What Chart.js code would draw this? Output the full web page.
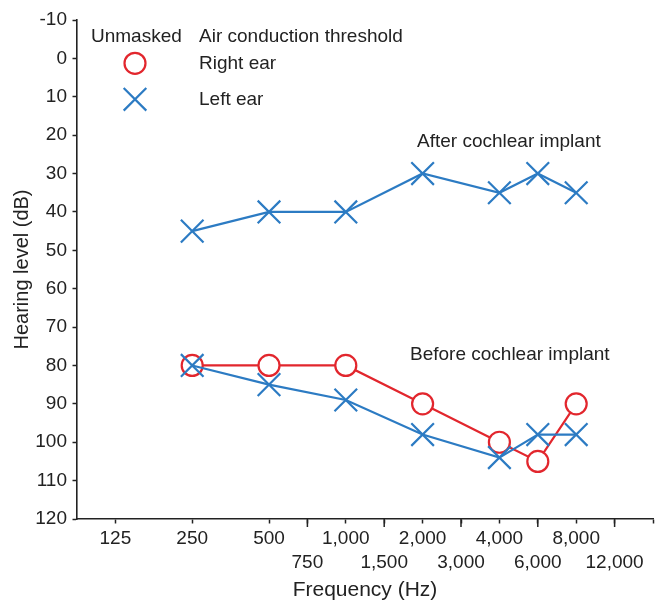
<!DOCTYPE html>
<html>
<head>
<meta charset="utf-8">
<script src="https://cdn.jsdelivr.net/npm/chart.js@4.4.1/dist/chart.umd.min.js"></script>
<style>
  html, body { margin: 0; padding: 0; background: #fff; }
  #wrap { position: relative; width: 655px; height: 603px; }
</style>
</head>
<body>
<div id="wrap"><canvas id="c" width="655" height="603"></canvas></div>
<script>
// ---- data (frequencies in Hz, hearing level in dB) ----
const freqs = [250, 500, 1000, 2000, 4000, 6000, 8000];
const rightBefore = [80, 80, 80, 90, 100, 105, 90];
const leftBefore  = [80, 85, 89, 98, 104, 98, 98];
const leftAfter   = [45, 40, 40, 30, 35, 30, 35];

const octaveFreqs = [125, 250, 500, 1000, 2000, 4000, 8000, 16000];
const octaveLabels = ['125', '250', '500', '1,000', '2,000', '4,000', '8,000', ''];
const halfFreqs = [750, 1500, 3000, 6000, 12000];
const halfLabels = ['750', '1,500', '3,000', '6,000', '12,000'];
const yTicks = [-10, 0, 10, 20, 30, 40, 50, 60, 70, 80, 90, 100, 110, 120];

const RED = '#E2262D';
const BLUE = '#2C7BC3';
const INK = '#222222';
const FONT = '"Liberation Sans", Arial, Helvetica, sans-serif';

// audiogram position: octaves above 125 Hz, inter-octave frequencies at the half-way point
function audPos(f) { return Math.round(2 * Math.log2(f / 125)) / 2; }

function series(vals) { return freqs.map((f, i) => ({ x: audPos(f), y: vals[i] })); }

Chart.defaults.font.family = FONT;
Chart.defaults.color = INK;

const overlay = {
  id: 'overlay',
  afterDraw(chart) {
    const ctx = chart.ctx;
    const xs = chart.scales.x;
    ctx.save();
    // longer tick marks at inter-octave frequencies
    ctx.strokeStyle = INK;
    ctx.lineWidth = 1.5;
    halfFreqs.forEach(f => {
      const px = xs.getPixelForValue(audPos(f));
      ctx.beginPath();
      ctx.moveTo(px, xs.top);
      ctx.lineTo(px, xs.top + 8);
      ctx.stroke();
    });
    // legend and annotations
    ctx.font = '19px ' + FONT;
    ctx.fillStyle = INK;
    ctx.textAlign = 'left';
    ctx.textBaseline = 'alphabetic';
    ctx.fillText('Unmasked', 91, 41.7);
    ctx.fillText('Air conduction threshold', 199, 41.7);
    ctx.fillText('Right ear', 199, 68.5);
    ctx.fillText('Left ear', 199, 105);
    ctx.fillText('After cochlear implant', 417, 146.5);
    ctx.fillText('Before cochlear implant', 410, 359.5);
    ctx.lineWidth = 2.2;
    ctx.strokeStyle = RED;
    ctx.fillStyle = '#ffffff';
    Chart.helpers.drawPoint(ctx, { pointStyle: 'circle', radius: 10.5, borderWidth: 2.2, rotation: 0 }, 135, 63.3);
    ctx.strokeStyle = BLUE;
    Chart.helpers.drawPoint(ctx, { pointStyle: 'crossRot', radius: 16, borderWidth: 2.2, rotation: 0 }, 135, 99.3);
    ctx.restore();
  }
};

new Chart(document.getElementById('c'), {
  type: 'scatter',
  data: {
    datasets: [
      {
        label: 'Right ear (before cochlear implant)',
        data: series(rightBefore),
        showLine: true,
        borderColor: RED,
        backgroundColor: '#ffffff',
        borderWidth: 2.2,
        pointStyle: 'circle',
        pointRadius: 10.5,
        pointBorderWidth: 2.2,
        pointBorderColor: RED,
        pointBackgroundColor: '#ffffff',
        order: 2
      },
      {
        label: 'Left ear (before cochlear implant)',
        data: series(leftBefore),
        showLine: true,
        borderColor: BLUE,
        backgroundColor: BLUE,
        borderWidth: 2.2,
        pointStyle: 'crossRot',
        pointRadius: 16,
        pointBorderWidth: 2.2,
        pointBorderColor: BLUE,
        order: 1
      },
      {
        label: 'Left ear (after cochlear implant)',
        data: series(leftAfter),
        showLine: true,
        borderColor: BLUE,
        backgroundColor: BLUE,
        borderWidth: 2.2,
        pointStyle: 'crossRot',
        pointRadius: 16,
        pointBorderWidth: 2.2,
        pointBorderColor: BLUE,
        order: 0
      }
    ]
  },
  options: {
    responsive: false,
    animation: false,
    devicePixelRatio: 1,
    layout: { autoPadding: false, padding: { left: 0, top: 20, right: 2, bottom: 0 } },
    plugins: { legend: { display: false }, tooltip: { enabled: false } },
    elements: { line: { tension: 0 } },
    scales: {
      x: {
        type: 'linear',
        min: audPos(125) - 0.5,
        max: audPos(16000),
        afterBuildTicks(scale) {
          const all = octaveFreqs.concat(halfFreqs).map(audPos).sort((a, b) => a - b);
          scale.ticks = all.map(v => ({ value: v }));
        },
        afterFit(scale) { scale.height = 84; scale.paddingRight = 0; scale.paddingLeft = 0; },
        border: { display: true, color: INK, width: 1.6 },
        grid: { display: true, drawOnChartArea: false, drawTicks: true, tickLength: 4.5, tickColor: INK, tickWidth: 1.5 },
        ticks: {
          autoSkip: false,
          maxRotation: 0,
          padding: 3.5,
          font: { size: 19, lineHeight: 1.25 },
          color: INK,
          callback(v) {
            const oi = octaveFreqs.findIndex(f => audPos(f) === v);
            if (oi >= 0) return octaveLabels[oi];
            const hi = halfFreqs.findIndex(f => audPos(f) === v);
            if (hi >= 0) return ['', halfLabels[hi]];
            return '';
          }
        },
        title: { display: true, text: 'Frequency (Hz)', font: { size: 21 }, color: INK, padding: { top: 0, bottom: 0 } }
      },
      y: {
        type: 'linear',
        reverse: true,
        min: yTicks[0],
        max: yTicks[yTicks.length - 1],
        afterBuildTicks(scale) { scale.ticks = yTicks.map(v => ({ value: v })); },
        afterFit(scale) { scale.width = 77; },
        border: { display: true, color: INK, width: 1.6 },
        grid: { display: true, drawOnChartArea: false, drawTicks: true, tickLength: 4.5, tickColor: INK, tickWidth: 1.5 },
        ticks: { padding: 5.5, font: { size: 19 }, color: INK },
        title: { display: true, text: 'Hearing level (dB)', font: { size: 20 }, color: INK, padding: { top: 10, bottom: 0 } }
      }
    }
  },
  plugins: [overlay]
});
</script>
</body>
</html>
